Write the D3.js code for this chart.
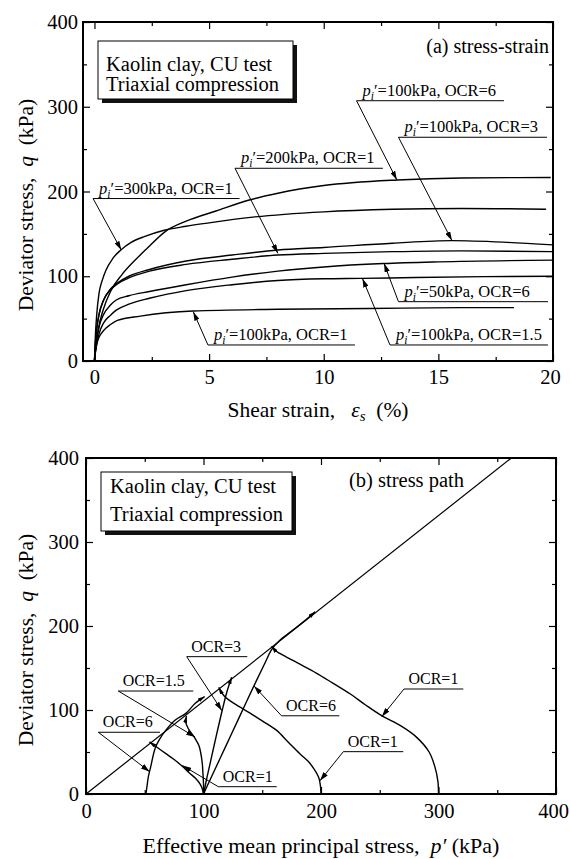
<!DOCTYPE html>
<html>
<head>
<meta charset="utf-8">
<script src="https://cdn.jsdelivr.net/npm/d3@7"></script>
<style>
  body { margin: 0; background: #fff; }
  svg { display: block; font-family: "Liberation Serif", "Times New Roman", serif; }
</style>
</head>
<body>
<svg id="chart" width="570" height="859"></svg>
<script>
// ---- (a) stress-strain : [shear strain %, q kPa]
const ssP300OCR1 = [[0,0],[0.04,30],[0.1,55],[0.2,80],[0.35,96],[0.5,107],[0.8,121],[1.15,131],[1.6,140],[2.2,147],[3,154],[4,159],[5,163],[7,170],[10,176],[13,179],[16,180],[19.7,179]];
const ssP100OCR6 = [[0,0],[0.05,15],[0.15,35],[0.4,62],[0.7,82],[1.2,102],[1.7,117],[2.3,133],[3.1,153],[4,165],[5.3,177],[6.75,190],[8,198],[10,207],[13.2,213.6],[16,216],[19.9,216.5]];
const ssP200OCR1 = [[0,0],[0.04,20],[0.1,38],[0.2,55],[0.4,72],[0.7,84],[1,91],[1.5,98],[2.4,106],[4,114],[6,120],[8,125],[10,127],[13,129],[16,130],[20,129]];
const ssP100OCR3 = [[0,0],[0.04,20],[0.1,38],[0.2,55],[0.4,72],[0.7,85],[1,92],[1.5,100],[2.4,108],[4,118],[6,125],[8,131],[10,134],[13,139],[15.6,142],[18,140],[20,137]];
const ssP50OCR6 = [[0,0],[0.04,12],[0.1,25],[0.2,40],[0.4,55],[0.7,66],[0.95,72],[1.5,77],[2.4,82],[4,90],[6,99],[8,106],[10,111],[12.6,115],[15,117],[20,119]];
const ssP100OCR15 = [[0,0],[0.04,10],[0.1,20],[0.2,32],[0.4,45],[0.7,54],[0.95,60],[1.5,67],[2.4,74],[4,83],[6,90],[8,95],[10,97],[11.6,97.5],[14,98.5],[17,99.5],[20,100]];
const ssP100OCR1 = [[0,0],[0.04,10],[0.1,20],[0.2,28],[0.4,36],[0.7,43],[1,48],[2,53],[4.3,59],[8,61],[12,62],[16,63],[18.3,63]];

// ---- (b) stress path : [p' kPa, q kPa]
const spP300OCR1 = [[300,0],[299.5,15],[297,32],[292,50],[281,68],[268,81],[252,93],[238,106],[225,119],[210,132],[196,144],[180,156],[168,165],[162,170],[158,176]];
const spP200OCR1 = [[200,0],[199.5,10],[198,20],[194,30],[189,39],[182,48],[172,62],[162,76],[150,87],[140,96],[128,106],[118,116],[113,127]];
const spP100OCR1 = [[100,0],[99,6],[97,12],[93,19],[88,25],[82,33],[75,41],[68,48],[61,55],[54,62]];
const spP100OCR15 = [[100,0],[100,12],[99.5,25],[99,36],[97.5,50],[96,58],[92,68],[87,78],[85,85],[85.5,93]];
const spP100OCR3 = [[100,0],[103,20],[107,45],[111,70],[116,100],[120,122],[124,139]];
const spP100OCR6 = [[100,0],[110,30],[120,60],[130,90],[143,129],[152,155],[158,172],[165,183],[175,194],[185,205],[195,217]];
const spP50OCR6 = [[51,0],[52,10],[53,20],[55,32],[59,55],[63,66],[68,76],[76,88],[85,96],[93,108],[101,116]];
const cslP = [0, 362];
const cslQ = [0, 400];

// ---- axis ticks
const strainTicks = [0, 5, 10, 15, 20];
const strainMinor = [2.5, 7.5, 12.5, 17.5];
const stressTicks = [0, 100, 200, 300, 400];
const stressMinor = [50, 150, 250, 350];

// ---- annotations (data coordinates: underline x0..x1 at y, arrow tip)
const topNotes = [
  { t: "=300kPa, OCR=1", x0: -0.06, x1: 6.33, y: 191.7, tip: [1.17, 131] },
  { t: "=200kPa, OCR=1", x0: 6.13, x1: 12.58, y: 227.4, tip: [8.0, 127] },
  { t: "=100kPa, OCR=6", x0: 11.43, x1: 17.86, y: 307.1, tip: [13.19, 213.6] },
  { t: "=100kPa, OCR=3", x0: 13.26, x1: 19.74, y: 264, tip: [15.59, 142.2] },
  { t: "=50kPa, OCR=6", x0: 13.26, x1: 19.78, y: 70, tip: [12.63, 115.3] },
  { t: "=100kPa, OCR=1.5", x0: 12.89, x1: 19.78, y: 18.9, tip: [11.69, 97.3] },
  { t: "=100kPa, OCR=1", x0: 4.95, x1: 11.36, y: 18.9, tip: [4.31, 58.2] }
];
const botNotes = [
  { t: "OCR=3", x0: 85.7, x1: 137.3, y: 163.5, tip: [115.7, 99.2] },
  { t: "OCR=1.5", x0: 27.5, x1: 91.3, y: 122.6, tip: [92.8, 67.9] },
  { t: "OCR=6", x0: 10.5, x1: 63, y: 73.5, tip: [54.2, 26.5] },
  { t: "OCR=1", x0: 112.6, x1: 162.3, y: 8.7, tip: [82.1, 33.9] },
  { t: "OCR=6", x0: 166.4, x1: 215.6, y: 93.1, tip: [143, 128.6] },
  { t: "OCR=1", x0: 219, x1: 270, y: 50.4, tip: [199.1, 15.8] },
  { t: "OCR=1", x0: 270.6, x1: 321.1, y: 125, tip: [251.7, 92] }
];

const svg = d3.select("#chart");
const defs = svg.append("defs");
defs.append("marker")
  .attr("id", "arrow").attr("viewBox", "0 0 10 6")
  .attr("refX", 10).attr("refY", 3)
  .attr("markerWidth", 9).attr("markerHeight", 5.4)
  .attr("markerUnits", "userSpaceOnUse").attr("orient", "auto")
  .append("path").attr("d", "M0,0L10,3L0,6Z").attr("fill", "#000");
defs.append("marker")
  .attr("id", "arrowSmall").attr("viewBox", "0 0 10 6")
  .attr("refX", 10).attr("refY", 3)
  .attr("markerWidth", 7).attr("markerHeight", 4.2)
  .attr("markerUnits", "userSpaceOnUse").attr("orient", "auto")
  .append("path").attr("d", "M0,0L10,3L0,6Z").attr("fill", "#000");

function drawFrame(g, x, y, xTicks, xMinor, yTicks, yMinor, padX, padY) {
  const [l, r] = x.range();
  const [b, t] = y.range();
  const ax = (sel) => {
    sel.select(".domain").remove();
    sel.selectAll("line").attr("stroke", "#000").attr("stroke-width", 1.2);
    sel.selectAll("text").attr("font-size", "20.5px").attr("fill", "#000")
      .attr("font-family", "Liberation Serif, serif");
  };
  const bottom = g.append("g").attr("transform", `translate(0,${b})`)
    .call(d3.axisBottom(x).tickValues(xTicks).tickSize(-7).tickPadding(padX)).call(ax);
  // last label sits at the page edge, as in the original
  bottom.selectAll(".tick text").filter((d, i, arr) => i === arr.length - 1).attr("dx", -3);
  g.append("g").attr("transform", `translate(0,${b})`)
    .call(d3.axisBottom(x).tickValues(xMinor).tickSize(-4).tickFormat("")).call(ax);
  g.append("g").attr("transform", `translate(0,${t})`)
    .call(d3.axisTop(x).tickValues(xTicks).tickSize(-7).tickFormat("")).call(ax);
  g.append("g").attr("transform", `translate(0,${t})`)
    .call(d3.axisTop(x).tickValues(xMinor).tickSize(-4).tickFormat("")).call(ax);
  g.append("g").attr("transform", `translate(${l},0)`)
    .call(d3.axisLeft(y).tickValues(yTicks).tickSize(-7).tickPadding(padY)).call(ax);
  g.append("g").attr("transform", `translate(${l},0)`)
    .call(d3.axisLeft(y).tickValues(yMinor).tickSize(-4).tickFormat("")).call(ax);
  g.append("g").attr("transform", `translate(${r},0)`)
    .call(d3.axisRight(y).tickValues(yTicks).tickSize(-7).tickFormat("")).call(ax);
  g.append("g").attr("transform", `translate(${r},0)`)
    .call(d3.axisRight(y).tickValues(yMinor).tickSize(-4).tickFormat("")).call(ax);
  g.append("rect").attr("x", l).attr("y", t).attr("width", r - l).attr("height", b - t)
    .attr("fill", "none").attr("stroke", "#000").attr("stroke-width", 2);
}

function legendBox(g, x0, y0, w, h, tx, ty1, ty2) {
  g.append("rect").attr("x", x0 + 4).attr("y", y0 + 4).attr("width", w).attr("height", h).attr("fill", "#111");
  g.append("rect").attr("x", x0).attr("y", y0).attr("width", w).attr("height", h)
    .attr("fill", "#fff").attr("stroke", "#000").attr("stroke-width", 1);
  g.append("text").attr("x", tx).attr("y", ty1).attr("font-size", "20.5px").text("Kaolin clay, CU test");
  g.append("text").attr("x", tx).attr("y", ty2).attr("font-size", "20.5px").text("Triaxial compression");
}

function note(g, x, y, n, withPi) {
  const x0 = x(n.x0), x1 = x(n.x1), yy = y(n.y);
  g.append("line").attr("x1", x0).attr("x2", x1).attr("y1", yy).attr("y2", yy)
    .attr("stroke", "#000").attr("stroke-width", 1);
  g.append("line").attr("x1", x0).attr("y1", yy).attr("x2", x(n.tip[0])).attr("y2", y(n.tip[1]))
    .attr("stroke", "#000").attr("stroke-width", 1).attr("marker-end", "url(#arrow)");
  const t = g.append("text").attr("x", x0 + (withPi ? 6 : 4.5)).attr("y", yy - 5)
    .attr("font-size", withPi ? "16.5px" : "16px");
  if (withPi) {
    t.append("tspan").attr("font-style", "italic").text("p");
    t.append("tspan").attr("font-style", "italic").attr("font-size", "11.5px").attr("dy", 4).text("i");
    t.append("tspan").attr("dy", -4).text("\u2032" + n.t);
  } else {
    t.text(n.t);
  }
}

function yTitle(g, cy) {
  const t = g.append("text").attr("transform", `translate(33,${cy}) rotate(-90)`)
    .attr("text-anchor", "middle").attr("font-size", "21.5px");
  t.append("tspan").text("Deviator stress,\u00a0\u00a0");
  t.append("tspan").attr("font-style", "italic").text("q");
  t.append("tspan").text("\u00a0\u00a0(kPa)");
}

// ================= panel (a)
const xa = d3.scaleLinear().domain([-0.5, 20]).range([83, 553]);
const ya = d3.scaleLinear().domain([0, 400]).range([361, 22]);
const ga = svg.append("g");
legendBox(ga, 98, 41, 195, 58, 106, 70.7, 90.7);
ga.append("text").attr("x", 549).attr("y", 53).attr("text-anchor", "end")
  .attr("font-size", "20px").text("(a) stress-strain");

const lineA = d3.line().x(d => xa(d[0])).y(d => ya(d[1])).curve(d3.curveMonotoneX);
[ssP300OCR1, ssP100OCR6, ssP200OCR1, ssP100OCR3, ssP50OCR6, ssP100OCR15, ssP100OCR1].forEach(s => {
  ga.append("path").attr("d", lineA(s)).attr("fill", "none").attr("stroke", "#000").attr("stroke-width", 1.4);
});
topNotes.forEach(n => note(ga, xa, ya, n, true));
drawFrame(ga, xa, ya, strainTicks, strainMinor, stressTicks, stressMinor, 8, 5);

const tA = ga.append("text").attr("x", 318).attr("y", 417).attr("text-anchor", "middle").attr("font-size", "21.5px");
tA.append("tspan").text("Shear strain,\u00a0\u00a0\u00a0");
tA.append("tspan").attr("font-style", "italic").text("\u03b5");
tA.append("tspan").attr("font-style", "italic").attr("font-size", "15px").attr("dy", 4).text("s");
tA.append("tspan").attr("dy", -4).text("\u00a0\u00a0(%)");
yTitle(ga, 205);

// ================= panel (b)
const xb = d3.scaleLinear().domain([0, 400]).range([86, 556]);
const yb = d3.scaleLinear().domain([0, 400]).range([794, 458]);
const gb = svg.append("g");
legendBox(gb, 101, 472, 191, 59, 110, 492.7, 521);
gb.append("text").attr("x", 349).attr("y", 487).attr("font-size", "20.5px").text("(b) stress path");

gb.append("line").attr("x1", xb(cslP[0])).attr("y1", yb(cslQ[0]))
  .attr("x2", xb(cslP[1])).attr("y2", yb(cslQ[1]))
  .attr("stroke", "#000").attr("stroke-width", 1.2);

const lineB = d3.line().x(d => xb(d[0])).y(d => yb(d[1])).curve(d3.curveCatmullRom);
[spP300OCR1, spP200OCR1, spP100OCR1, spP100OCR15, spP100OCR3, spP100OCR6, spP50OCR6].forEach(s => {
  gb.append("path").attr("d", lineB(s)).attr("fill", "none").attr("stroke", "#000")
    .attr("stroke-width", 1.4).attr("marker-end", "url(#arrowSmall)");
});
botNotes.forEach(n => note(gb, xb, yb, n, false));
drawFrame(gb, xb, yb, stressTicks, stressMinor, stressTicks, stressMinor, 9, 7);

const tB = gb.append("text").attr("x", 321).attr("y", 853).attr("text-anchor", "middle").attr("font-size", "22px");
tB.append("tspan").text("Effective mean principal stress,\u00a0\u00a0");
tB.append("tspan").attr("font-style", "italic").text("p\u2032");
tB.append("tspan").text("\u00a0(kPa)");
yTitle(gb, 640);
</script>
</body>
</html>
